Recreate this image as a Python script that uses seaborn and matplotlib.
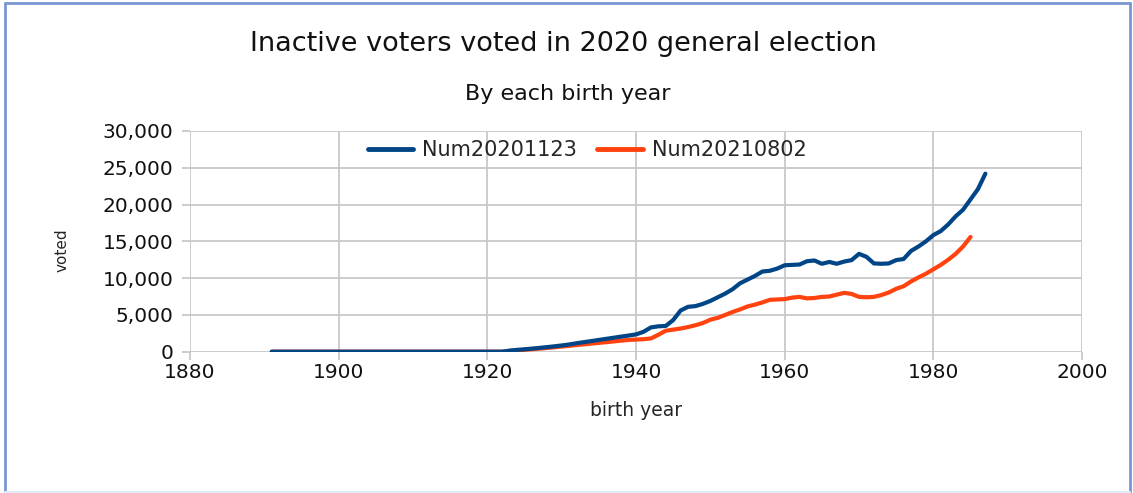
import numpy as np
import pandas as pd
import matplotlib
matplotlib.use("Agg")
import matplotlib.pyplot as plt
import matplotlib.ticker as mticker
from matplotlib.lines import Line2D
import seaborn as sns

# ---- data ----
years_blue = list(range(1891, 1988))
num20201123 = [0] * 32 + [
    150, 250, 330, 420, 520, 620, 730, 850, 980, 1150,          # 1923-1932
    1300, 1450, 1600, 1750, 1900, 2050, 2200, 2350, 2700, 3300,  # 1933-1942
    3450, 3500, 4300, 5600, 6100, 6200, 6500, 6900, 7400, 7900,  # 1943-1952
    8500, 9300, 9800, 10300, 10900, 11000, 11300, 11750, 11800, 11850,  # 1953-1962
    12300, 12400, 11950, 12200, 11950, 12250, 12450, 13300, 12900, 12000,  # 1963-1972
    11950, 12000, 12450, 12600, 13700, 14300, 15000, 15850, 16400, 17300,  # 1973-1982
    18400, 19300, 20700, 22100, 24200,                           # 1983-1987
]
years_orange = list(range(1891, 1986))
num20210802 = [0] * 32 + [
    100, 180, 260, 340, 420, 500, 600, 700, 800, 900,            # 1923-1932
    1000, 1100, 1200, 1300, 1400, 1500, 1600, 1650, 1700, 1800,  # 1933-1942
    2300, 2850, 3000, 3150, 3350, 3600, 3900, 4350, 4600, 5000,  # 1943-1952
    5400, 5750, 6150, 6400, 6700, 7050, 7100, 7150, 7350, 7450,  # 1953-1962
    7250, 7300, 7450, 7500, 7750, 8000, 7850, 7450, 7400, 7450,  # 1963-1972
    7700, 8050, 8550, 8900, 9550, 10100, 10600, 11200, 11800, 12500,  # 1973-1982
    13300, 14300, 15600,                                         # 1983-1985
]
series_names = ["Num20201123", "Num20210802"]
series_colors = ["#004586", "#ff420e"]
x_ticks = [1880, 1900, 1920, 1940, 1960, 1980, 2000]
y_ticks = [0, 5000, 10000, 15000, 20000, 25000, 30000]

df = pd.concat([
    pd.DataFrame({"birth year": years_blue, "voted": num20201123, "series": series_names[0]}),
    pd.DataFrame({"birth year": years_orange, "voted": num20210802, "series": series_names[1]}),
], ignore_index=True)

sns.set_style("white")
plt.rcParams["font.family"] = ["DejaVu Sans"]

fig = plt.figure(figsize=(11.33, 4.93), dpi=100)
ax = fig.add_axes([0.1677, 0.2866, 0.7873, 0.4477])

sns.lineplot(data=df, x="birth year", y="voted", hue="series",
             hue_order=series_names, palette=series_colors,
             linewidth=3, ax=ax, legend=True, estimator=None)
# blue on top
ax.lines[0].set_zorder(4)
ax.lines[1].set_zorder(3)

ax.set_xlim(1880, 2000)
ax.set_ylim(0, 30000)
ax.set_xticks(x_ticks)
ax.set_yticks(y_ticks)
ax.yaxis.set_major_formatter(mticker.FuncFormatter(lambda v, p: f"{int(v):,}"))
ax.grid(True, color="#c8c8c8", linewidth=1.3)
ax.set_axisbelow(True)
for s in ax.spines.values():
    s.set_visible(False)
ax.tick_params(axis="both", which="both", bottom=True, left=True, direction="out",
               length=6, width=1.3, color="#c8c8c8",
               labelsize=14.5, labelcolor="#111111", pad=2)
ax.tick_params(axis="y", pad=6)

ax.set_xlabel("birth year", fontsize=13.5, labelpad=14)
ax.set_ylabel("voted", fontsize=11)
ax.yaxis.set_label_coords(-0.135, 0.461)

leg = ax.legend(loc="center", bbox_to_anchor=(0.445, 0.914), ncol=2, frameon=False,
                fontsize=15, handlelength=2.2, columnspacing=1.0, handletextpad=0.4)
for h in leg.get_lines():
    h.set_linewidth(3.5)

fig.text(0.497, 0.91, "Inactive voters voted in 2020 general election",
         ha="center", va="center", fontsize=19.5, color="#111111")
fig.text(0.501, 0.81, "By each birth year", ha="center", va="center",
         fontsize=16, color="#111111")

# frame around the figure
bc = "#7a97d4"
fig.add_artist(Line2D([0.004, 0.004], [0.0, 0.994], transform=fig.transFigure, color=bc, lw=2))
fig.add_artist(Line2D([0.004, 0.997], [0.994, 0.994], transform=fig.transFigure, color=bc, lw=2))
fig.add_artist(Line2D([0.997, 0.997], [0.0, 0.994], transform=fig.transFigure, color=bc, lw=2))
fig.add_artist(Line2D([0.004, 0.997], [0.002, 0.002], transform=fig.transFigure, color="#e3ebf8", lw=1.5))

fig.savefig("out.png", dpi=100)
